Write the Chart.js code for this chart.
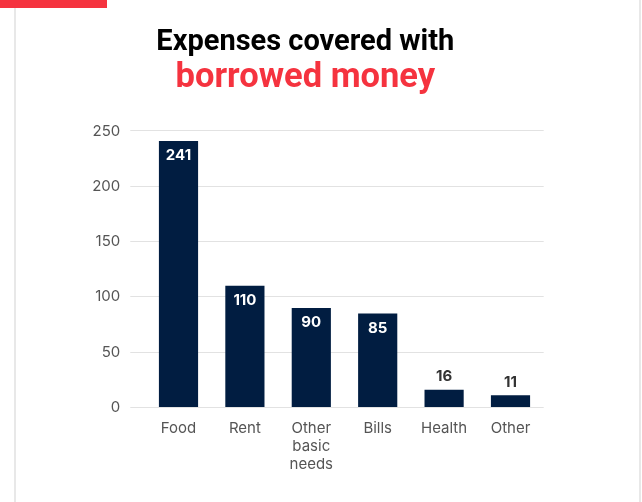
<!DOCTYPE html>
<html>
<head>
<meta charset="utf-8">
<script src="https://cdn.jsdelivr.net/npm/chart.js@4.4.1/dist/chart.umd.min.js"></script>
<style>
  html, body { margin: 0; padding: 0; background: #ffffff; }
  body { width: 642px; height: 502px; position: relative; overflow: hidden; }
  .card {
    position: absolute; left: 14px; top: 0; width: 623px; height: 502px;
    border-left: 2px solid #e8e8e8; border-right: 2px solid #e8e8e8;
  }
  .tag { position: absolute; left: 0; top: 0; width: 107px; height: 8px; background: #f5333f; }
  .chart-box { position: absolute; left: 0; top: 0; width: 642px; height: 502px; }
</style>
</head>
<body>
<div class="card"></div>
<div class="tag"></div>
<div class="chart-box"><canvas id="chart-canvas"></canvas></div>
<script>
  // ----- chart data -----
  var categories = ["Food", "Rent", ["Other", "basic", "needs"], "Bills", "Health", "Other"];
  var counts = [241, 110, 90, 85, 16, 11];
  var yTicks = [0, 50, 100, 150, 200, 250];

  var NAVY = "#011d41";
  var RED = "#f5333f";
  var TICK_FONT = "Inter, 'Open Sans', sans-serif";

  /**
   * Writes each bar's value: inside the top of tall bars (white),
   * just above short bars (dark grey).
   */
  var valueLabels = {
    id: "valueLabels",
    afterDatasetsDraw: function(chart) {
      var ctx = chart.ctx;
      var meta = chart.getDatasetMeta(0);
      ctx.save();
      ctx.font = "bold 15px " + TICK_FONT;
      ctx.textAlign = "center";
      ctx.textBaseline = "middle";
      meta.data.forEach(function(bar, i) {
        var v = counts[i];
        if (v >= 50) {
          ctx.fillStyle = "#ffffff";
          ctx.fillText(String(v), bar.x, bar.y + 14.5);
        } else {
          ctx.fillStyle = "#333333";
          ctx.fillText(String(v), bar.x, bar.y - 13);
        }
      });
      ctx.restore();
    }
  };

  var ctx = document.getElementById("chart-canvas").getContext("2d");
  new Chart(ctx, {
    type: "bar",
    data: {
      labels: categories,
      datasets: [{
        data: counts,
        backgroundColor: NAVY,
        borderWidth: 0,
        barPercentage: 0.59,
        categoryPercentage: 1,
      }],
    },
    options: {
      responsive: true,
      maintainAspectRatio: false,
      animation: false,
      layout: { padding: { top: 0, left: 67, right: 98.3, bottom: 0 } },
      plugins: {
        legend: { display: false },
        tooltip: { enabled: false },
        title: {
          display: true,
          text: "Expenses covered with",
          color: "#000000",
          font: { family: "Roboto", size: 29, weight: "bold", lineHeight: 1.2 },
          padding: { top: 25, bottom: 0 },
        },
        subtitle: {
          display: true,
          text: "borrowed money",
          color: RED,
          font: { family: "Roboto", size: 34.5, weight: "bold", lineHeight: 1.055 },
          padding: { top: 0, bottom: 34.8 },
        },
      },
      scales: {
        x: {
          grid: { display: false },
          border: { display: false },
          ticks: {
            color: "#555555",
            font: { family: TICK_FONT, size: 15, lineHeight: 1.2 },
            padding: 4,
            maxRotation: 0,
            autoSkip: false,
          },
          afterFit: function(scale) { scale.height = 94.5; },
        },
        y: {
          min: 0,
          max: 250,
          border: { display: false },
          grid: { color: "#e2e2e2", lineWidth: 1, tickLength: 15 },
          afterBuildTicks: function(scale) {
            scale.ticks = yTicks.map(function(v) { return { value: v }; });
          },
          ticks: {
            color: "#555555",
            font: { family: TICK_FONT, size: 15 },
            padding: 10,
          },
          afterFit: function(scale) { scale.width = 78.3; },
        },
      },
    },
    plugins: [valueLabels],
  });
</script>
</body>
</html>
